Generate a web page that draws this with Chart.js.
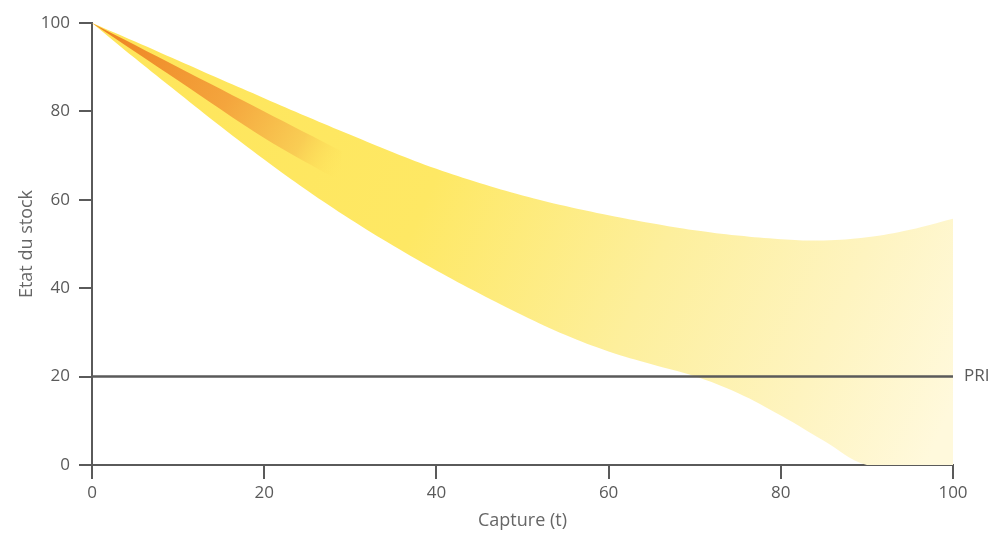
<!DOCTYPE html>
<html>
<head>
<meta charset="utf-8">
<script src="https://cdn.jsdelivr.net/npm/chart.js@4"></script>
<style>
  html, body { margin: 0; padding: 0; background: #fff; }
  #wrap { width: 995px; height: 533px; }
</style>
</head>
<body>
<div id="wrap"><canvas id="stockChart" width="995" height="533"></canvas></div>
<script>
// Valeurs
const captureX = [0, 5, 10, 15, 20, 25, 30, 35, 40, 45, 50, 55, 60, 65, 70, 75, 80, 85, 90, 95, 100];
const stockUpper = [100, 95.8, 91.5, 87.2, 83, 78.8, 74.7, 70.7, 67, 63.8, 61, 58.6, 56.5, 54.7, 53.1, 51.9, 51.1, 50.8, 51.5, 53.2, 55.7];
const stockLower = [100, 92, 84.2, 76.5, 69.1, 62.1, 55.6, 49.6, 44, 38.8, 33.9, 29.4, 25.7, 22.8, 20.1, 16.3, 11.2, 5.5, 0, 0, 0];

const coreX = [0, 10, 20, 29];
const coreUpper = [100, 90, 80, 71];
const coreLower = [100, 87, 74, 64];

const priLevel = 20;
const xTicks = [0, 20, 40, 60, 80, 100];
const yTicks = [0, 20, 40, 60, 80, 100];

const AXIS = '#5a5a5a';
const FONT = "'Open Sans', 'DejaVu Sans', sans-serif";

function toPoints(xs, ys) {
  return xs.map((x, i) => ({ x: x, y: ys[i] }));
}

function bandGradient(context) {
  const chart = context.chart;
  const area = chart.chartArea;
  if (!area) {
    return '#fee75c';
  }
  const g = chart.ctx.createLinearGradient(area.left, area.top, area.right, area.bottom - 60);
  g.addColorStop(0, '#fee55a');
  g.addColorStop(0.4, '#fee864');
  g.addColorStop(0.65, '#fdef9c');
  g.addColorStop(0.85, '#fef4c0');
  g.addColorStop(1, '#fff9dc');
  return g;
}

function coreGradient(context) {
  const chart = context.chart;
  const area = chart.chartArea;
  if (!area) {
    return '#f39a36';
  }
  const xs = chart.scales.x;
  const ys = chart.scales.y;
  const g = chart.ctx.createLinearGradient(xs.getPixelForValue(2), ys.getPixelForValue(97),
    xs.getPixelForValue(29), ys.getPixelForValue(67));
  g.addColorStop(0, '#ee8524');
  g.addColorStop(0.5, '#f4a53d');
  g.addColorStop(0.82, '#f9cd54');
  g.addColorStop(1, 'rgba(254, 228, 90, 0)');
  return g;
}

const priLabel = {
  id: 'priLabel',
  afterDatasetsDraw(chart) {
    const { ctx, chartArea, scales } = chart;
    const y = scales.y.getPixelForValue(priLevel);
    ctx.save();
    ctx.fillStyle = AXIS;
    ctx.font = "17px " + FONT;
    ctx.textAlign = 'left';
    ctx.textBaseline = 'middle';
    ctx.fillText('PRI', chartArea.right + 11, y);
    ctx.restore();
  },
};

new Chart(document.getElementById('stockChart'), {
  type: 'line',
  data: {
    datasets: [
      {
        label: 'PRI',
        data: toPoints([0, 100], [priLevel, priLevel]),
        borderColor: AXIS,
        borderWidth: 2.5,
        pointRadius: 0,
        fill: false,
        order: 0,
      },
      {
        label: 'coeur haut',
        data: toPoints(coreX, coreUpper),
        borderWidth: 0,
        pointRadius: 0,
        tension: 0.3,
        fill: '+1',
        backgroundColor: coreGradient,
        order: 1,
      },
      {
        label: 'coeur bas',
        data: toPoints(coreX, coreLower),
        borderWidth: 0,
        pointRadius: 0,
        tension: 0.3,
        fill: false,
        order: 2,
      },
      {
        label: 'stock haut',
        data: toPoints(captureX, stockUpper),
        borderWidth: 0,
        pointRadius: 0,
        tension: 0.4,
        fill: '+1',
        backgroundColor: bandGradient,
        order: 3,
      },
      {
        label: 'stock bas',
        data: toPoints(captureX, stockLower),
        borderWidth: 0,
        pointRadius: 0,
        tension: 0.4,
        fill: false,
        order: 4,
      },
    ],
  },
  options: {
    responsive: false,
    animation: false,
    layout: { padding: { top: 23, right: 42, left: 0, bottom: 0 } },
    plugins: {
      legend: { display: false },
      tooltip: { enabled: false },
    },
    scales: {
      x: {
        type: 'linear',
        min: 0,
        max: 100,
        afterFit: (scale) => { scale.height = 68; },
        afterBuildTicks: (scale) => { scale.ticks = xTicks.map((v) => ({ value: v })); },
        ticks: { color: AXIS, font: { family: FONT, size: 17 }, padding: 4, maxRotation: 0 },
        grid: { drawOnChartArea: false, drawTicks: true, tickLength: 14, color: AXIS, lineWidth: 2 },
        border: { display: true, color: AXIS, width: 2 },
        title: {
          display: true,
          text: 'Capture (t)',
          color: '#666',
          font: { family: FONT, size: 18 },
          padding: { top: 4, bottom: 1 },
        },
      },
      y: {
        min: 0,
        max: 100,
        afterFit: (scale) => { scale.width = 92; },
        afterBuildTicks: (scale) => { scale.ticks = yTicks.map((v) => ({ value: v })); },
        ticks: { color: AXIS, font: { family: FONT, size: 17 }, padding: 9 },
        grid: { drawOnChartArea: false, drawTicks: true, tickLength: 13, color: AXIS, lineWidth: 2 },
        border: { display: true, color: AXIS, width: 2 },
        title: {
          display: true,
          text: 'Etat du stock',
          color: '#666',
          font: { family: FONT, size: 18 },
          padding: { top: 16, bottom: 0 },
        },
      },
    },
  },
  plugins: [priLabel],
});
</script>
</body>
</html>
